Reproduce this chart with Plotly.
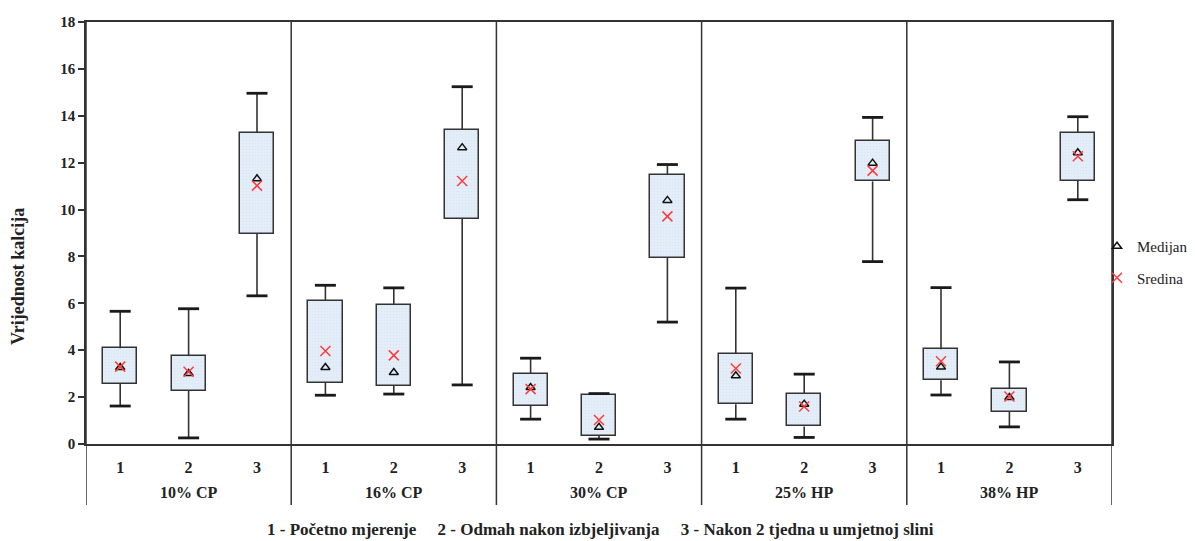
import plotly.graph_objects as go

groups = ["10% CP", "16% CP", "30% CP", "25% HP", "38% HP"]
phases = ["1", "2", "3"]
upper = [5.66, 5.77, 14.96, 6.77, 6.66, 15.24, 3.66, 2.15, 11.92, 6.65, 2.98, 13.93, 6.67, 3.50, 13.96]
q3 = [4.08, 3.75, 13.27, 6.12, 5.95, 13.39, 3.00, 2.10, 11.48, 3.85, 2.15, 12.94, 4.04, 2.35, 13.27]
q1 = [2.57, 2.28, 8.96, 2.62, 2.48, 9.61, 1.64, 0.35, 7.94, 1.70, 0.75, 11.20, 2.72, 1.37, 11.23]
lower = [1.62, 0.26, 6.32, 2.08, 2.13, 2.52, 1.06, 0.21, 5.20, 1.06, 0.28, 7.78, 2.09, 0.73, 10.42]
median = [3.26, 3.01, 11.31, 3.26, 3.05, 12.64, 2.41, 0.71, 10.39, 2.91, 1.70, 11.98, 3.28, 1.98, 12.42]
mean = [3.30, 3.08, 11.02, 3.97, 3.78, 11.22, 2.34, 1.02, 9.71, 3.22, 1.60, 11.66, 3.53, 2.03, 12.27]
footer_items = ["1 - Početno mjerenje", "2 - Odmah nakon izbjeljivanja", "3 - Nakon 2 tjedna u umjetnoj slini"]

SERIF = "Liberation Serif"
EDGE = "#333333"
n = len(groups) * len(phases)
xs = list(range(n))

fig = go.Figure()

# boxes (q1..q3)
fig.add_trace(go.Bar(
    x=xs, y=[a - b for a, b in zip(q3, q1)], base=q1, width=0.5,
    marker=dict(color="#dfeaf6", line=dict(color=EDGE, width=1.5),
                pattern=dict(shape=".", fgcolor="#cddeef", bgcolor="#e3eef9", size=3, solidity=0.25)),
    showlegend=False, hoverinfo="skip"))

# whisker stems
fig.add_trace(go.Scatter(
    x=xs, y=q3, mode="markers", marker=dict(size=0.1, color="rgba(0,0,0,0)"),
    error_y=dict(type="data", symmetric=False, array=[u - a for u, a in zip(upper, q3)],
                 arrayminus=[0] * n, width=0, thickness=1.6, color=EDGE),
    showlegend=False, hoverinfo="skip"))
fig.add_trace(go.Scatter(
    x=xs, y=q1, mode="markers", marker=dict(size=0.1, color="rgba(0,0,0,0)"),
    error_y=dict(type="data", symmetric=False, array=[0] * n,
                 arrayminus=[a - l for a, l in zip(q1, lower)], width=0, thickness=1.6, color=EDGE),
    showlegend=False, hoverinfo="skip"))
# whisker caps
fig.add_trace(go.Scatter(
    x=xs + xs, y=upper + lower, mode="markers",
    marker=dict(symbol="line-ew", size=15, line=dict(color="#1a1a1a", width=2.8)),
    showlegend=False, hoverinfo="skip"))

# median & mean
fig.add_trace(go.Scatter(
    x=xs, y=median, mode="markers", name="Medijan", legendgroup="a",
    marker=dict(symbol="triangle-up-open", size=8, color="#111111", line=dict(width=1.5))))
fig.add_trace(go.Scatter(
    x=xs, y=mean, mode="markers", name="Sredina", legendgroup="b",
    marker=dict(symbol="x-thin-open", size=10, color="#ff3b3b", line=dict(width=1.5, color="#ff3b3b"))))

# page body has an 8px margin: figure is drawn 8px in from the window corner
OFF = 8
W, H = 1195 - OFF, 541 - OFF
L, R, T = 86 - OFF, 1195 - 1112, 22 - OFF
B = H - (444 - OFF)
plot_h = H - T - B
plot_w = W - L - R
low_y = -(505 - 444) / plot_h

shapes = []
for g in range(len(groups) + 1):
    xb = g * len(phases) - 0.5
    shapes.append(dict(type="line", xref="x", yref="paper", x0=xb, x1=xb, y0=low_y, y1=1,
                       line=dict(color=EDGE, width=1.5)))

ann = []
for g, name in enumerate(groups):
    ann.append(dict(x=g * len(phases) + (len(phases) - 1) / 2, xref="x", y=0, yref="paper",
                    yshift=-48, text=name, showarrow=False, yanchor="middle",
                    font=dict(family=SERIF, size=16, color="#222", weight="bold")))
footer = "&nbsp;&nbsp;&nbsp;&nbsp;&nbsp;".join(footer_items)
ann.append(dict(x=(600 - 86) / plot_w, xref="paper", y=0, yref="paper", yshift=-85, text=footer,
                showarrow=False, yanchor="middle",
                font=dict(family=SERIF, size=17, color="#222", weight="bold")))
ann.append(dict(x=0, xref="paper", xshift=-68, y=(444 - 277) / plot_h, yref="paper",
                text="Vrijednost kalcija", textangle=-90, showarrow=False, xanchor="center",
                font=dict(family=SERIF, size=18, color="#222", weight="bold")))

fig.update_layout(
    width=W, height=H, margin=dict(l=L, r=R, t=T, b=B, autoexpand=False),
    plot_bgcolor="white", paper_bgcolor="white",
    font=dict(family=SERIF, size=14, color="#222"),
    shapes=shapes, annotations=ann, bargap=0,
    legend=dict(x=(1097 - 86) / plot_w, xanchor="left", y=(444 - 262) / plot_h, yanchor="middle",
                font=dict(family=SERIF, size=15, color="#222"), tracegroupgap=9,
                traceorder="grouped", itemwidth=30, bgcolor="rgba(0,0,0,0)"),
    xaxis=dict(range=[-0.5, n - 0.5], tickvals=xs, ticktext=phases * len(groups),
               showline=True, linecolor=EDGE, linewidth=1.5, mirror=True, showgrid=False,
               zeroline=False, ticks="", ticklabelstandoff=8,
               tickfont=dict(family=SERIF, size=16, color="#222", weight="bold")),
    yaxis=dict(range=[0, 18], dtick=2, showline=True, linecolor=EDGE, linewidth=1.5, mirror=True,
               showgrid=False, zeroline=False, ticks="outside", ticklen=6, tickcolor=EDGE,
               tickwidth=1.5, tickfont=dict(family=SERIF, size=15, color="#222", weight="bold")),
)

fig.write_html("out.html")
